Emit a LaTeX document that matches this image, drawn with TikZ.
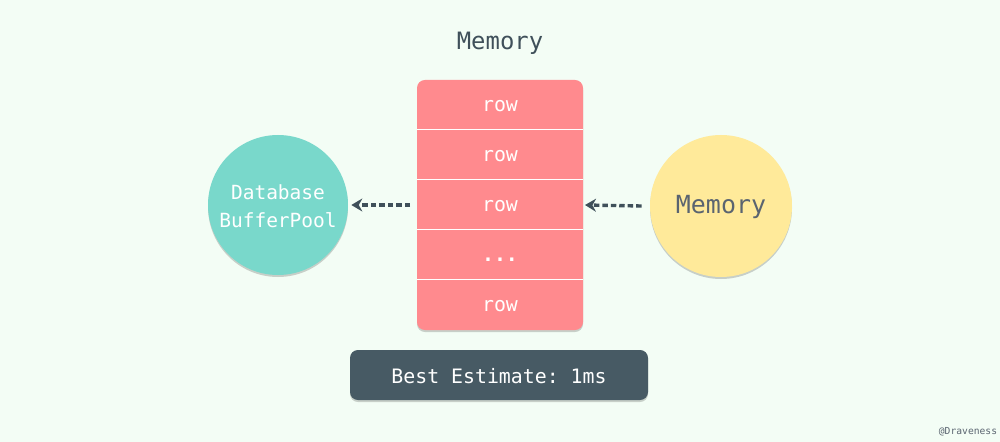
\documentclass[tikz,border=0pt]{standalone}
\usepackage{fontspec}
\setmonofont{DejaVu Sans Mono}
\usetikzlibrary{arrows.meta}
\definecolor{bgc}{HTML}{F3FDF5}
\definecolor{rowc}{HTML}{FF8A8E}
\definecolor{tealc}{HTML}{79D8CB}
\definecolor{yelc}{HTML}{FFEA9A}
\definecolor{darkc}{HTML}{475A64}
\definecolor{arrc}{HTML}{3F505A}
\definecolor{memtxt}{HTML}{5A6470}
\tikzset{
  rowtxt/.style={text=white, font=\ttfamily\fontsize{11.3}{13}\selectfont},
  circ/.style={circle, minimum size=140*0.02cm, inner sep=0pt},
  shadowc/.style={fill=black, opacity=0.18},
  dasharrow/.style={draw=arrc, line width=3.4*0.567pt, dash pattern=on 5.5*0.567pt off 3*0.567pt, -{Stealth[length=11*0.567pt, width=13*0.567pt]}},
}
\begin{document}
\begin{tikzpicture}[x=0.02cm, y=-0.02cm]
\fill[bgc] (0,0) rectangle (1000,442);
\useasboundingbox (0,0) rectangle (1000,442);
% title
\node[text=arrc, font=\ttfamily\fontsize{13.6}{16}\selectfont] (title) at (500,43.5) {Memory};
% table shadow
\fill[shadowc, rounded corners=8*0.567pt] (417,82) rectangle (583,332);
\fill[rowc, rounded corners=8*0.567pt] (417,80) rectangle (583,330);
\foreach \yy in {129.5,179.5,229.5,279.5}
  \draw[white, line width=1.2*0.567pt] (417,\yy) -- (583,\yy);
\node[rowtxt] (r1) at (500,106.5) {row};
\node[rowtxt] (r2) at (500,156.5) {row};
\node[rowtxt] (r3) at (500,206.5) {row};
\node[rowtxt, font=\ttfamily\bfseries\fontsize{11.3}{13}\selectfont] (r4) at (500,260) {...};
\node[rowtxt] (r5) at (500,306.5) {row};
\coordinate (tl) at (417,205);
\coordinate (tr) at (583,205);
% left circle
\fill[shadowc] (278,207) circle (70);
\node[circ, fill=tealc] (db) at (278,205) {};
\node[rowtxt, align=center, font=\ttfamily\fontsize{11.1}{16}\selectfont] (dbt) at (278,206) {Database\\BufferPool};
% right circle
\fill[shadowc] (721,208) circle (71);
\node[circ, minimum size=142*0.02cm, fill=yelc] (mem) at (721,206) {};
\node[text=memtxt, font=\ttfamily\fontsize{14.2}{16}\selectfont] (memt) at (721,207.5) {Memory};
% arrows
\draw[dasharrow] ([xshift=-7*0.02cm]tl) -- ([xshift=3*0.02cm]db.east);
\draw[dasharrow] ([xshift=-8*0.02cm]mem.west) -- ([xshift=2*0.02cm]tr);
% bottom box
\fill[shadowc, rounded corners=8*0.567pt] (350,352) rectangle (648,402);
\fill[darkc, rounded corners=8*0.567pt] (350,350) rectangle (648,400);
\node[rowtxt] (best) at (499,376) {Best Estimate: 1ms};
% credit
\node[text=memtxt, font=\ttfamily\fontsize{5.5}{7}\selectfont] (cred) at (968,432) {@Draveness};
\end{tikzpicture}
\end{document}
